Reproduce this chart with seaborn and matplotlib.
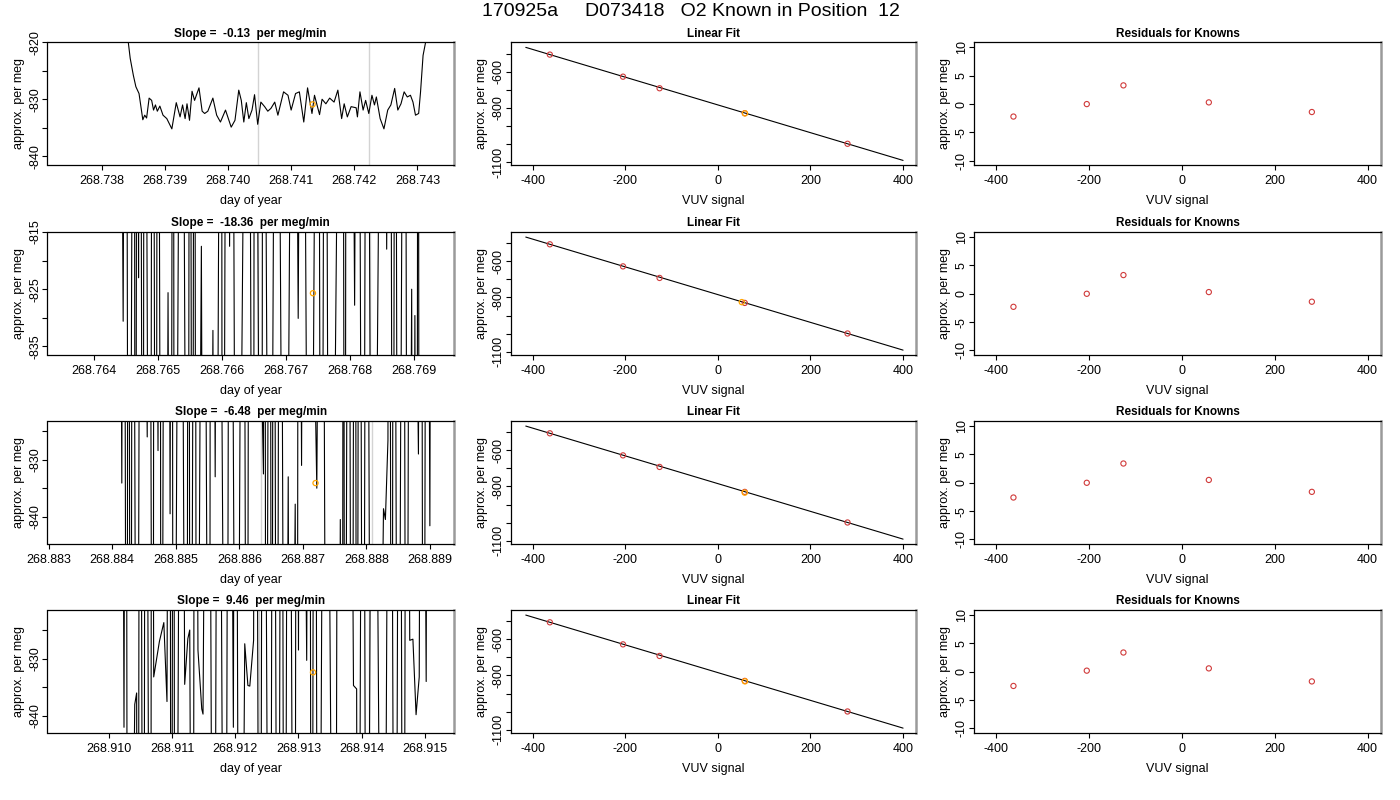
import numpy as np
import matplotlib
matplotlib.use('Agg')
import matplotlib.pyplot as plt
import seaborn as sns

# ---------------- data ----------------
SUPTITLE = '170925a     D073418   O2 Known in Position  12'
slopes = ['-0.13', '-18.36', '-6.48', '9.46']

# row 1: time series of the working gas (day of year, per meg)
p1_day = [268.73738, 268.73825, 268.73835, 268.73842, 268.73845, 268.73850, 268.73854, 268.73859,
          268.73865, 268.73868, 268.73871, 268.73875, 268.73879, 268.73882, 268.73885, 268.73888,
          268.73892, 268.73897, 268.73903, 268.73911, 268.73918, 268.73924, 268.73928, 268.73932,
          268.73935, 268.73939, 268.73943, 268.73947, 268.73954, 268.73959, 268.73963, 268.73968,
          268.73976, 268.73982, 268.73988, 268.73996, 268.74005, 268.74011, 268.74017, 268.74021,
          268.74025, 268.74029, 268.74033, 268.74038, 268.74042, 268.74047, 268.74052, 268.74058,
          268.74063, 268.74068, 268.74074, 268.74079, 268.74088, 268.74095, 268.74100, 268.74107,
          268.74113, 268.74120, 268.74126, 268.74133, 268.74137, 268.74145, 268.74149, 268.74155,
          268.74161, 268.74168, 268.74174, 268.74180, 268.74184, 268.74189, 268.74195, 268.74203,
          268.74205, 268.74209, 268.74214, 268.74218, 268.74223, 268.74228, 268.74232, 268.74235,
          268.74241, 268.74247, 268.74253, 268.74258, 268.74264, 268.74269, 268.74274, 268.74279,
          268.74284, 268.74289, 268.74293, 268.74297, 268.74302, 268.74305, 268.74309, 268.74313,
          268.74318, 268.74334]
p1_val = [-700, -800, -815, -820, -822.8, -825.8, -827.8, -829.0, -833.6, -832.8, -833.3, -829.8,
          -830.2, -831.9, -831.0, -832.1, -831.2, -832.8, -833.4, -835.2, -830.6, -833.1, -831.0,
          -833.4, -830.8, -833.7, -828.6, -830.2, -828.0, -832.1, -832.5, -832.1, -829.8,
          -832.8, -834.0, -831.9, -834.9, -833.7, -828.4, -830.2, -834.0, -830.6, -833.4,
          -831.9, -829.2, -834.4, -830.5, -831.3, -832.1, -831.6, -830.5, -832.8, -828.7,
          -829.3, -831.9, -829.0, -828.7, -834.0, -828.0, -832.5, -829.3, -832.7, -830.0,
          -830.8, -829.8, -830.5, -828.4, -833.4, -830.8, -833.1, -831.3, -831.5, -833.1,
          -828.7, -831.9, -830.2, -832.5, -829.3, -831.0, -829.6, -833.4, -835.2, -831.9,
          -831.0, -828.1, -831.9, -830.8, -828.7, -829.6, -829.3, -830.5, -832.8, -832.5,
          -828.7, -822.3, -820.0, -812, -700]

# row 2
p2_day = [268.76351, 268.76440, 268.76446, 268.76450, 268.76455, 268.76463, 268.76465, 268.76468,
          268.76470, 268.76472, 268.76477, 268.76479, 268.76488, 268.76492, 268.76497, 268.76500,
          268.76506, 268.76512, 268.76516, 268.76520, 268.76524, 268.76526, 268.76537, 268.76547,
          268.76550, 268.76554, 268.76557, 268.76560, 268.76568, 268.76572, 268.76580, 268.76586,
          268.76590, 268.76599, 268.76601, 268.76608, 268.76612, 268.76615, 268.76623, 268.76641,
          268.76649, 268.76651, 268.76662, 268.76664, 268.76675, 268.76685, 268.76698, 268.76712,
          268.76719, 268.76725, 268.76737, 268.76750, 268.76755, 268.76761, 268.76768, 268.76788,
          268.76792, 268.76794, 268.76800, 268.76807, 268.76812, 268.76820, 268.76826, 268.76835,
          268.76852, 268.76857, 268.76862, 268.76867, 268.76870, 268.76875, 268.76885, 268.76890,
          268.76896, 268.76898, 268.76901, 268.76904, 268.76906, 268.76908, 268.76938]
p2_val = [-700, -705, -830.6, -690, -960, -700, -950, -710, -823, -705,
          -940, -700, -955, -690, -945, -700, -960, -950, -825.6, -945,
          -700, -950, -705, -955, -700, -945, -700, -960, -817.5, -950,
          -945, -832.2, -950, -700, -955, -700, -817.5, -700, -950, -700,
          -955, -700, -950, -705, -945, -700, -950, -700, -830.1, -700,
          -950, -700, -955, -700, -950, -700, -950, -705, -700, -827.8,
          -700, -950, -700, -945, -700, -818, -700, -950, -700, -955,
          -700, -950, -825, -950, -829.6, -950, -700, -950, -960]

# row 3
p3_day = [268.88322, 268.88410, 268.88415, 268.88418, 268.88423, 268.88425, 268.88429, 268.88432,
          268.88439, 268.88445, 268.88455, 268.88458, 268.88464, 268.88466, 268.88472, 268.88475,
          268.88477, 268.88483, 268.88488, 268.88491, 268.88494, 268.88496, 268.88507, 268.88517,
          268.88520, 268.88523, 268.88530, 268.88533, 268.88543, 268.88553, 268.88555, 268.88558,
          268.88562, 268.88566, 268.88580, 268.88585, 268.88596, 268.88606, 268.88612, 268.88616,
          268.88638, 268.88640, 268.88642, 268.88648, 268.88651, 268.88654, 268.88659, 268.88664,
          268.88672, 268.88677, 268.88680, 268.88688, 268.88691, 268.88693, 268.88698, 268.88702,
          268.88722, 268.88730, 268.88738, 268.88755, 268.88759, 268.88762, 268.88764, 268.88766,
          268.88772, 268.88777, 268.88782, 268.88785, 268.88789, 268.88795, 268.88800, 268.88808,
          268.88815, 268.88827, 268.88830, 268.88834, 268.88836, 268.88840, 268.88843, 268.88850,
          268.88858, 268.88863, 268.88869, 268.88882, 268.88886, 268.88890, 268.88895, 268.88900,
          268.88903, 268.88915]
p3_val = [-700, -705, -834.1, -700, -960, -700, -950, -705, -955, -700,
          -826, -700, -960, -700, -828.4, -700, -955, -700, -705, -839.5,
          -700, -955, -700, -960, -700, -955, -700, -950, -700, -955,
          -700, -705, -833, -700, -955, -700, -950, -700, -955, -700,
          -832.5, -705, -950, -700, -955, -700, -950, -700, -955, -833,
          -950, -837.8, -955, -700, -831, -700, -835, -700, -955, -950,
          -840.5, -950, -700, -955, -700, -960, -700, -950, -700, -955,
          -700, -950, -955, -838.6, -840.5, -826.6, -700, -955, -700, -950,
          -700, -955, -700, -829, -700, -955, -700, -841.6, -700, -705]

# row 4
p4_day = [268.90927, 268.91020, 268.91024, 268.91027, 268.91030, 268.91041, 268.91044, 268.91046,
          268.91049, 268.91055, 268.91058, 268.91066, 268.91068, 268.91071, 268.91080, 268.91087,
          268.91092, 268.91096, 268.91099, 268.91102, 268.91105, 268.91115, 268.91120, 268.91125,
          268.91128, 268.91133, 268.91136, 268.91141, 268.91147, 268.91149, 268.91157, 268.91166,
          268.91173, 268.91184, 268.91190, 268.91197, 268.91200, 268.91207, 268.91215, 268.91220,
          268.91223, 268.91229, 268.91232, 268.91239, 268.91244, 268.91255, 268.91260, 268.91268,
          268.91273, 268.91278, 268.91284, 268.91294, 268.91297, 268.91300, 268.91303, 268.91313,
          268.91317, 268.91321, 268.91323, 268.91326, 268.91331, 268.91342, 268.91358, 268.91363,
          268.91380, 268.91387, 268.91392, 268.91394, 268.91402, 268.91408, 268.91418, 268.91434,
          268.91445, 268.91453, 268.91460, 268.91466, 268.91471, 268.91476, 268.91481, 268.91486,
          268.91491, 268.91495, 268.91502, 268.91505, 268.91522]
p4_val = [-700, -705, -842, -700, -960, -838, -836, -960, -700, -955,
          -700, -955, -700, -833.2, -827, -823.7, -837.5, -700, -955, -700,
          -955, -700, -834.5, -826.5, -825, -955, -700, -828.5, -838.8, -839.7,
          -700, -955, -700, -955, -700, -842, -700, -955, -827.4, -834.7,
          -834.8, -826.8, -700, -955, -700, -955, -700, -955, -700, -955,
          -700, -955, -700, -828.5, -700, -830.3, -700, -955, -826.5, -700,
          -955, -700, -955, -700, -705, -834.7, -835.3, -955, -700, -955,
          -700, -955, -700, -955, -700, -955, -700, -826.8, -826.6, -839.8,
          -833.2, -700, -834, -700, -705]

series_day = [p1_day, p2_day, p3_day, p4_day]
series_val = [p1_val, p2_val, p3_val, p4_val]

# sample (orange) position per row
sample_day = [268.74134, 268.76742, 268.88720, 268.91323]
sample_val = [-830.9, -825.7, -834.1, -832.4]
sample_vuv = [58.5, 51.6, 58.0, 58.5]
# light grey integration-window markers
window_day = [[268.74048, 268.74223], [268.76656, 268.76831],
              [268.88634, 268.88809], [268.91237, 268.91412]]

# axis setup of the time-series panels
ts_xlim = [(268.73714, 268.74358), (268.76328, 268.76962),
           (268.88298, 268.88938), (268.90903, 268.91546)]
ts_ylim = [(-841.6, -820.0), (-836.5, -815.0), (-844.8, -823.2), (-843.0, -821.5)]
ts_xticks = [[268.738, 268.739, 268.740, 268.741, 268.742, 268.743],
             [268.764, 268.765, 268.766, 268.767, 268.768, 268.769],
             [268.883, 268.884, 268.885, 268.886, 268.887, 268.888, 268.889],
             [268.910, 268.911, 268.912, 268.913, 268.914, 268.915]]
ts_yticks = [[-840, -835, -830, -825, -820], [-835, -830, -825, -820, -815],
             [-840, -835, -830, -825], [-840, -835, -830, -825]]
ts_ylabels = [['-840', '', '-830', '', '-820'], ['-835', '', '-825', '', '-815'],
              ['-840', '', '-830', ''], ['-840', '', '-830', '']]

# knowns: VUV signal vs approx. per meg, and fit
known_vuv = [-363, -205, -126, 58, 280]
known_val = [-506, -628, -692, -830, -999]
fit_vuv = [-415, 400]
fit_val = [-466, -1091]
residuals = [[-2.2, 0.0, 3.3, 0.3, -1.4],
             [-2.3, 0.0, 3.3, 0.3, -1.4],
             [-2.6, 0.0, 3.4, 0.5, -1.6],
             [-2.5, 0.2, 3.4, 0.6, -1.7]]

fit_yticks = [-1100, -1000, -900, -800, -700, -600, -500]
fit_ylabels = ['-1100', '', '', '-800', '', '-600', '']
vuv_ticks = [-400, -200, 0, 200, 400]
res_yticks = [-10, -5, 0, 5, 10]

# ---------------- drawing ----------------
sns.set_theme(style='ticks')
plt.rcParams['font.family'] = ['Liberation Sans', 'DejaVu Sans']
plt.rcParams.update({'axes.linewidth': 0.9, 'text.color': 'black',
                     'axes.labelcolor': 'black', 'xtick.color': 'black',
                     'ytick.color': 'black', 'axes.edgecolor': 'black'})

RED = '#d03a3a'
ORANGE = '#ffa500'

fig = plt.figure(figsize=(14, 8), dpi=100)
fig.text(690.5 / 1400, 1 - 11 / 800, SUPTITLE, ha='center', va='center', fontsize=14)

col_left = [47.5, 510.5, 974.0]
col_width = [406.5, 406.0, 407.0]
row_top = [42.3, 232.0, 421.0, 610.0]
H = 123.0


def style(ax, title, xlabel):
    ax.set_title(title, fontsize=8.5, fontweight='bold', pad=4)
    ax.set_xlabel(xlabel, fontsize=9, labelpad=6)
    ax.set_ylabel('approx. per meg', fontsize=9, labelpad=3)
    ax.tick_params(axis='both', direction='out', length=3.6, width=0.8,
                   labelsize=9, color='black', labelcolor='black')
    ax.tick_params(axis='x', pad=3.5)
    ax.tick_params(axis='y', labelrotation=90, pad=1)
    for lab in ax.get_yticklabels():
        lab.set_va('center')
    ax.spines['right'].set_color('#9a9a9a')
    ax.spines['right'].set_linewidth(1.8)
    ax.grid(False)


for i in range(4):
    bottom = 1 - (row_top[i] + H) / 800
    h = H / 800

    # time series panel
    ax = fig.add_axes([col_left[0] / 1400, bottom, col_width[0] / 1400, h])
    for d in window_day[i]:
        ax.axvline(d, color='#d3d3d3', lw=1.0, zorder=0)
    sns.lineplot(x=series_day[i], y=series_val[i], ax=ax, sort=False, estimator=None,
                 color='black', lw=0.8)
    sns.scatterplot(x=[sample_day[i]], y=[sample_val[i]], ax=ax, marker='o', s=14,
                    color=ORANGE, facecolor='none', edgecolor=ORANGE, linewidth=0.9, zorder=3)
    ax.set_xlim(*ts_xlim[i])
    ax.set_ylim(*ts_ylim[i])
    ax.set_xticks(ts_xticks[i])
    ax.set_xticklabels([f'{t:.3f}' for t in ts_xticks[i]])
    ax.set_yticks(ts_yticks[i])
    ax.set_yticklabels(ts_ylabels[i])
    style(ax, f'Slope =  {slopes[i]}  per meg/min', 'day of year')

    # linear fit panel
    ax = fig.add_axes([col_left[1] / 1400, bottom, col_width[1] / 1400, h])
    sns.lineplot(x=fit_vuv, y=fit_val, ax=ax, sort=False, estimator=None, color='black', lw=0.8)
    sns.scatterplot(x=known_vuv, y=known_val, ax=ax, marker='o', s=14, color=RED,
                    facecolor='none', edgecolor=RED, linewidth=0.8, zorder=3)
    sns.scatterplot(x=[sample_vuv[i]], y=[sample_val[i]], ax=ax, marker='o', s=14,
                    color=ORANGE, facecolor='none', edgecolor=ORANGE, linewidth=0.9, zorder=3)
    ax.set_xlim(-448, 429)
    ax.set_ylim(-1118, -438)
    ax.set_xticks(vuv_ticks)
    ax.set_xticklabels([str(v) for v in vuv_ticks])
    ax.set_yticks(fit_yticks)
    ax.set_yticklabels(fit_ylabels)
    style(ax, 'Linear Fit', 'VUV signal')

    # residual panel
    ax = fig.add_axes([col_left[2] / 1400, bottom, col_width[2] / 1400, h])
    sns.scatterplot(x=known_vuv, y=residuals[i], ax=ax, marker='o', s=14, color=RED,
                    facecolor='none', edgecolor=RED, linewidth=0.8, zorder=3)
    ax.set_xlim(-448, 429)
    ax.set_ylim(-10.8, 10.9)
    ax.set_xticks(vuv_ticks)
    ax.set_xticklabels([str(v) for v in vuv_ticks])
    ax.set_yticks(res_yticks)
    ax.set_yticklabels([str(v) for v in res_yticks])
    style(ax, 'Residuals for Knowns', 'VUV signal')

fig.savefig('out.png', dpi=100)
